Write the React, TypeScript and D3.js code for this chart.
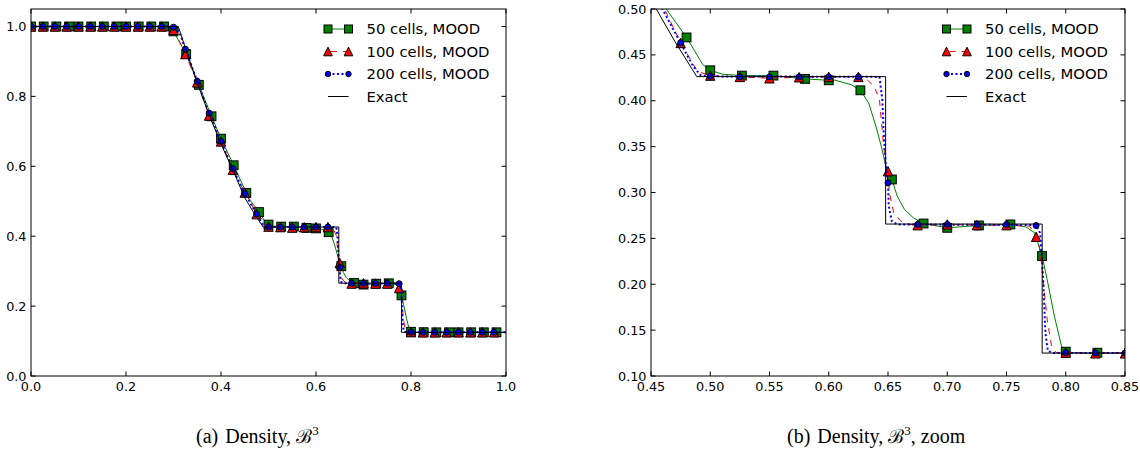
import React from "react";
import * as d3 from "d3";

// ---------- data ----------
const mood50LineX = [0,0.285,0.3,0.3267,0.3533,0.38,0.4,0.4267,0.4533,0.4584,0.48,0.4937,0.5,0.51,0.5267,0.5533,0.58,0.6,0.605,0.6187,0.6267,0.6337,0.6398,0.6443,0.6482,0.6533,0.6578,0.6639,0.6714,0.68,0.7,0.7267,0.7533,0.7663,0.7738,0.78,0.7843,0.7904,0.7964,0.8,0.81,1.0];
const mood50LineY = [1,1,0.986,0.921,0.833,0.743,0.679,0.603,0.524,0.508,0.469,0.4394,0.4332,0.429,0.4274,0.4274,0.4238,0.4223,0.4225,0.4176,0.4114,0.3976,0.3722,0.3505,0.3287,0.3142,0.296,0.2815,0.2724,0.2662,0.2615,0.2641,0.2652,0.2626,0.256,0.2307,0.2053,0.1653,0.1327,0.1265,0.125,0.125];
const mood50MarkX = [0,0.0267,0.0533,0.08,0.1,0.1267,0.1533,0.18,0.2,0.2267,0.2533,0.28,0.3,0.3267,0.3533,0.38,0.4,0.4267,0.4533,0.48,0.5,0.5267,0.5533,0.58,0.6,0.6267,0.6533,0.68,0.7,0.7267,0.7533,0.78,0.8,0.8267,0.8533,0.88,0.9,0.9267,0.9533,0.98];
const mood50MarkY = [1,1,1,1,1,1,1,1,1,1,1,1,0.986,0.921,0.833,0.743,0.679,0.603,0.524,0.469,0.4332,0.4274,0.4274,0.4238,0.4223,0.4114,0.3142,0.2662,0.2615,0.2641,0.2652,0.2307,0.1265,0.1254,0.125,0.125,0.125,0.125,0.125,0.125];

const mood100LineX = [0,0.295,0.3,0.31,0.325,0.35,0.375,0.4,0.425,0.45,0.4614,0.475,0.4892,0.5,0.525,0.55,0.575,0.6,0.625,0.6307,0.6383,0.6428,0.6458,0.6482,0.65,0.6512,0.6548,0.6608,0.6684,0.675,0.7,0.725,0.75,0.7693,0.7765,0.7798,0.7843,0.788,0.7919,1.0];
const mood100LineY = [1,1,0.99,0.965,0.921,0.84,0.745,0.671,0.59,0.525,0.5,0.463,0.432,0.4274,0.426,0.4245,0.4256,0.426,0.426,0.4249,0.4158,0.4013,0.3577,0.3287,0.3232,0.2996,0.2779,0.2688,0.2652,0.2644,0.2652,0.2644,0.2644,0.2634,0.2517,0.2198,0.1617,0.1327,0.1254,0.125];
const mood100MarkX = [0,0.025,0.05,0.075,0.1,0.125,0.15,0.175,0.2,0.225,0.25,0.275,0.3,0.325,0.35,0.375,0.4,0.425,0.45,0.475,0.5,0.525,0.55,0.575,0.6,0.625,0.65,0.675,0.7,0.725,0.75,0.775,0.8,0.825,0.85,0.875,0.9,0.925,0.95,0.975];
const mood100MarkY = [1,1,1,1,1,1,1,1,1,1,1,1,0.99,0.921,0.84,0.745,0.671,0.59,0.525,0.463,0.4274,0.426,0.4245,0.4256,0.426,0.426,0.3232,0.2644,0.2652,0.2644,0.2644,0.2517,0.1254,0.1247,0.1247,0.125,0.125,0.125,0.125,0.125];

const mood200LineX = [0,0.305,0.315,0.325,0.35,0.375,0.4,0.425,0.45,0.4596,0.475,0.4855,0.4922,0.5,0.6428,0.6452,0.6464,0.6482,0.65,0.6506,0.6533,0.6578,0.7747,0.7783,0.7807,0.7828,0.7849,0.79,1.0];
const mood200LineY = [1,1,0.975,0.935,0.843,0.752,0.671,0.593,0.522,0.5,0.463,0.4376,0.4274,0.4266,0.426,0.4013,0.365,0.3287,0.3105,0.2851,0.2688,0.2652,0.2645,0.2561,0.2125,0.1472,0.1272,0.125,0.125];
const mood200MarkX = [0,0.025,0.05,0.075,0.1,0.125,0.15,0.175,0.2,0.225,0.25,0.275,0.3,0.325,0.35,0.375,0.4,0.425,0.45,0.475,0.5,0.525,0.55,0.575,0.6,0.625,0.65,0.675,0.7,0.725,0.75,0.775,0.8,0.825,0.85,0.875,0.9,0.925,0.95,0.975];
const mood200MarkY = [1,1,1,1,1,1,1,1,1,1,1,1,0.998,0.935,0.843,0.752,0.671,0.593,0.522,0.463,0.4266,0.426,0.426,0.426,0.426,0.426,0.3105,0.2652,0.2652,0.2652,0.2652,0.264,0.1254,0.125,0.125,0.125,0.125,0.125,0.125,0.125];

const exactX = [0,0.31,0.33,0.35,0.375,0.4,0.425,0.45,0.47,0.4886,0.648,0.648,0.7801,0.7801,1.0];
const exactY = [1,1,0.918,0.839,0.747,0.664,0.589,0.51,0.465,0.4263,0.4263,0.2656,0.2656,0.125,0.125];

const leftXTicks = [0,0.2,0.4,0.6,0.8,1.0];
const leftYTicks = [0,0.2,0.4,0.6,0.8,1.0];
const rightXTicks = [0.45,0.5,0.55,0.6,0.65,0.7,0.75,0.8,0.85];
const rightYTicks = [0.1,0.15,0.2,0.25,0.3,0.35,0.4,0.45,0.5];

const legendLabels = ["50 cells, MOOD", "100 cells, MOOD", "200 cells, MOOD", "Exact"];
const captionTags = ["(a)", "(b)"];
const captionSuffix = ["", ", zoom"];

// ---------- styles ----------
const GREEN = "#008000";
const RED = "#ff0000";
const BLUE = "#0000ff";
const TICK_FONT = "DejaVu Sans";

type Panel = {
  id: string;
  left: number; right: number; top: number; bottom: number;
  xDomain: [number, number]; yDomain: [number, number];
  xTicks: number[]; yTicks: number[]; fmt: string;
  legendX: number;
  captionX: number;
};

const panels: Panel[] = [
  { id: "a", left: 31, right: 506, top: 9, bottom: 376, xDomain: [0, 1], yDomain: [0, 1.05], xTicks: leftXTicks, yTicks: leftYTicks, fmt: ".1f", legendX: 328, captionX: 196 },
  { id: "b", left: 651, right: 1125, top: 9, bottom: 376, xDomain: [0.45, 0.85], yDomain: [0.1, 0.5], xTicks: rightXTicks, yTicks: rightYTicks, fmt: ".2f", legendX: 946.5, captionX: 787 },
];

const SQ = 8.8;
const TRI = 9.4;
const CR = 3.0;

function Square({ x, y, s = SQ }: { x: number; y: number; s?: number }) {
  return <rect x={x - s / 2} y={y - s / 2} width={s} height={s} fill={GREEN} stroke="#000" strokeWidth={1} />;
}
function Tri({ x, y, s = TRI }: { x: number; y: number; s?: number }) {
  const h = s / 2;
  return <path d={`M${x},${y - h}L${x - h},${y + h}L${x + h},${y + h}Z`} fill={RED} stroke="#000" strokeWidth={1} />;
}
function Circ({ x, y, r = CR }: { x: number; y: number; r?: number }) {
  return <circle cx={x} cy={y} r={r} fill={BLUE} stroke="#000" strokeWidth={1} />;
}

function PanelView({ p, idx }: { p: Panel; idx: number }) {
  const xs = d3.scaleLinear().domain(p.xDomain).range([p.left, p.right]);
  const ys = d3.scaleLinear().domain(p.yDomain).range([p.bottom, p.top]);
  const line = (X: number[], Y: number[]) =>
    d3.line<number>().x((_, i) => xs(X[i])).y((_, i) => ys(Y[i]))(X) || "";
  const fmt = d3.format(p.fmt);
  const clip = `clip-${p.id}`;
  const tl = 4.5;
  const rows = [29, 51.5, 74, 96.5];
  const lx0 = p.legendX, lx1 = p.legendX + 20.5, tx = p.legendX + 38.5;
  return (
    <g>
      <defs>
        <clipPath id={clip}>
          <rect x={p.left} y={p.top} width={p.right - p.left} height={p.bottom - p.top} />
        </clipPath>
      </defs>
      <g clipPath={`url(#${clip})`}>
        <path d={line(mood50LineX, mood50LineY)} fill="none" stroke={GREEN} strokeWidth={1} />
        {mood50MarkX.map((x, i) => <Square key={"g" + i} x={xs(x)} y={ys(mood50MarkY[i])} />)}
        <path d={line(mood100LineX, mood100LineY)} fill="none" stroke={RED} strokeWidth={1} strokeDasharray="6,6" />
        {mood100MarkX.map((x, i) => <Tri key={"r" + i} x={xs(x)} y={ys(mood100MarkY[i])} />)}
        <path d={line(mood200LineX, mood200LineY)} fill="none" stroke={BLUE} strokeWidth={2} strokeDasharray="2,2.5" />
        {mood200MarkX.map((x, i) => <Circ key={"b" + i} x={xs(x)} y={ys(mood200MarkY[i])} />)}
        <path d={line(exactX, exactY)} fill="none" stroke="#000" strokeWidth={1} />
      </g>
      <rect x={p.left} y={p.top} width={p.right - p.left} height={p.bottom - p.top} fill="none" stroke="#000" strokeWidth={1} />
      {p.xTicks.map((t, i) => (
        <g key={"xt" + i}>
          <line x1={xs(t)} x2={xs(t)} y1={p.bottom} y2={p.bottom - tl} stroke="#000" />
          <line x1={xs(t)} x2={xs(t)} y1={p.top} y2={p.top + tl} stroke="#000" />
          <text x={xs(t)} y={p.bottom + 15} textAnchor="middle" fontFamily={TICK_FONT} fontSize={12.8} fill="#000">{fmt(t)}</text>
        </g>
      ))}
      {p.yTicks.map((t, i) => (
        <g key={"yt" + i}>
          <line x1={p.left} x2={p.left + tl} y1={ys(t)} y2={ys(t)} stroke="#000" />
          <line x1={p.right} x2={p.right - tl} y1={ys(t)} y2={ys(t)} stroke="#000" />
          <text x={p.left - 4.5} y={ys(t) + 4.6} textAnchor="end" fontFamily={TICK_FONT} fontSize={12.8} fill="#000">{fmt(t)}</text>
        </g>
      ))}
      <g>
        <line x1={lx0} x2={lx1} y1={rows[0]} y2={rows[0]} stroke={GREEN} strokeWidth={1} />
        <Square x={lx0} y={rows[0]} s={8} />
        <Square x={lx1} y={rows[0]} s={8} />
        <line x1={lx0} x2={lx1} y1={rows[1]} y2={rows[1]} stroke={RED} strokeWidth={1} strokeDasharray="6,6" strokeDashoffset={-3} />
        <Tri x={lx0} y={rows[1]} s={8.6} />
        <Tri x={lx1} y={rows[1]} s={8.6} />
        <line x1={lx0} x2={lx1} y1={rows[2]} y2={rows[2]} stroke={BLUE} strokeWidth={2} strokeDasharray="2,2.5" />
        <Circ x={lx0} y={rows[2]} r={2.7} />
        <Circ x={lx1} y={rows[2]} r={2.7} />
        <line x1={lx0} x2={lx1} y1={rows[3]} y2={rows[3]} stroke="#000" strokeWidth={1} />
        {legendLabels.map((s, i) => (
          <text key={"lg" + i} x={tx} y={rows[i] + 5.3} fontFamily={TICK_FONT} fontSize={14.8} fill="#000">{s}</text>
        ))}
      </g>
      <text x={p.captionX} y={443} fontFamily="Liberation Serif" fontSize={20} fill="#000">
        {captionTags[idx]}
        <tspan dx={7}>Density, </tspan>
        <tspan fontFamily="DejaVu Serif" fontSize={19}>ℬ</tspan>
        <tspan fontSize={13} dy={-8}>3</tspan>
        {captionSuffix[idx] ? <tspan dy={8}>{captionSuffix[idx]}</tspan> : null}
      </text>
    </g>
  );
}

export default function App() {
  return (
    <svg width={1140} height={462} style={{ position: "absolute", left: 0, top: 0, background: "#fff" }}>
      <rect x={0} y={0} width={1140} height={462} fill="#fff" />
      {panels.map((p, i) => <PanelView key={p.id} p={p} idx={i} />)}
    </svg>
  );
}
